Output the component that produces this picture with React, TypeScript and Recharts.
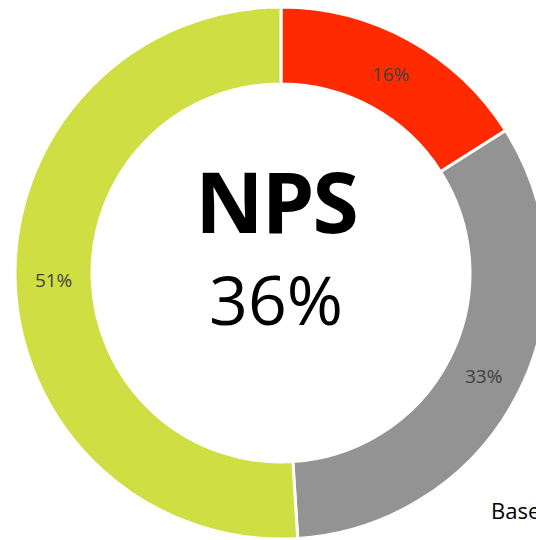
import React from 'react';
import { PieChart, Pie, Cell } from 'recharts';

const categories = ['Detractors', 'Passives', 'Promoters'];
const shares = [16, 33, 51];
const COLORS = ['#FF2A00', '#939393', '#CFDE42'];
const npsLabel = 'NPS';
const npsValue = '36%';
const baseNote = 'Base: ';

const data = categories.map((name, i) => ({ name, value: shares[i] }));

const RADIAN = Math.PI / 180;

const renderLabel = (props: any) => {
  const { cx, cy, midAngle, innerRadius, outerRadius, value } = props;
  const r = (innerRadius + outerRadius) / 2;
  const x = cx + r * Math.cos(-midAngle * RADIAN);
  const y = cy + r * Math.sin(-midAngle * RADIAN);
  return (
    <text
      x={x}
      y={y}
      fill="#404040"
      textAnchor="middle"
      dominantBaseline="central"
      fontSize={19}
      fontFamily="'Open Sans', sans-serif"
    >
      {`${value}%`}
    </text>
  );
};

const App: React.FC = () => {
  return (
    <div style={{ position: 'absolute', left: 0, top: 0, width: 536, height: 540, background: '#fff', overflow: 'hidden' }}>
      <PieChart width={536} height={540} margin={{ top: 0, right: 0, bottom: 0, left: 0 }}>
        <Pie
          data={data}
          dataKey="value"
          cx={281}
          cy={273}
          innerRadius={189}
          outerRadius={266}
          startAngle={90}
          endAngle={-270}
          stroke="#ffffff"
          strokeWidth={3}
          label={renderLabel}
          labelLine={false}
          isAnimationActive={false}
        >
          {data.map((_entry, index) => (
            <Cell key={`cell-${index}`} fill={COLORS[index % COLORS.length]} />
          ))}
        </Pie>
      </PieChart>
      <div
        style={{
          position: 'absolute', left: 0, width: 552, top: 151, textAlign: 'center', letterSpacing: -2,
          fontFamily: "'Open Sans', sans-serif", fontWeight: 700, fontSize: 84, lineHeight: '100px', color: '#000',
        }}
      >
        {npsLabel}
      </div>
      <div
        style={{
          position: 'absolute', left: 0, width: 552, top: 254, textAlign: 'center',
          fontFamily: "'Open Sans', sans-serif", fontWeight: 400, fontSize: 68, lineHeight: '90px', color: '#000',
        }}
      >
        {npsValue}
      </div>
      <div
        style={{
          position: 'absolute', left: 491, top: 495, whiteSpace: 'nowrap',
          fontFamily: "'Open Sans', sans-serif", fontSize: 22, color: '#000',
        }}
      >
        {baseNote}
      </div>
    </div>
  );
};

export default App;
